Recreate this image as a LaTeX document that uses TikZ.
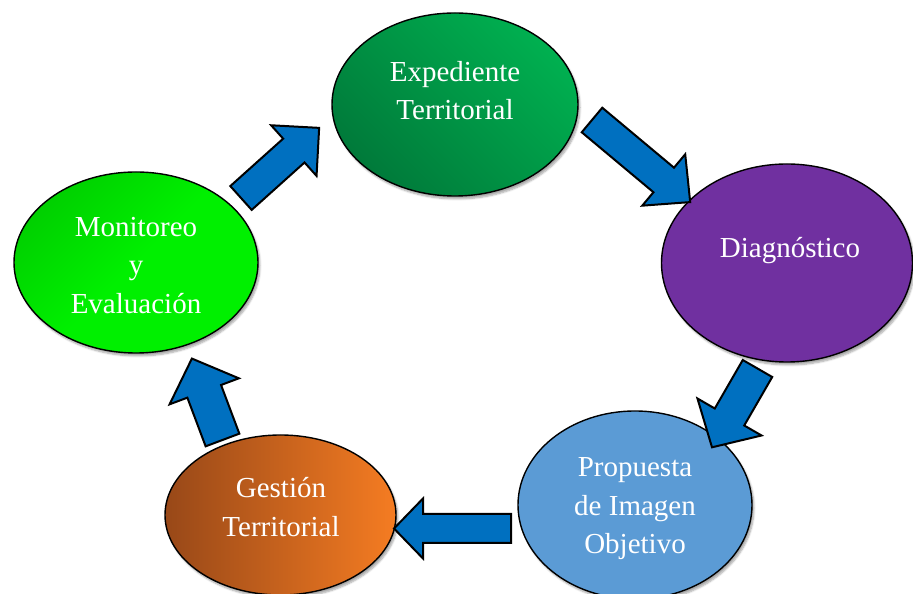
\documentclass[tikz,border=0pt]{standalone}
\usepackage{fontspec}
\setmainfont{Liberation Serif}
\usetikzlibrary{shadows.blur,shapes.geometric}
\definecolor{arrblue}{HTML}{0070C0}
\definecolor{expdark}{HTML}{007A3A}
\definecolor{explight}{HTML}{00B050}
\definecolor{diagpurple}{HTML}{7030A0}
\definecolor{mondark}{HTML}{00D000}
\definecolor{monlight}{HTML}{00F000}
\definecolor{gestdark}{HTML}{984818}
\definecolor{gestlight}{HTML}{F57C22}
\definecolor{propblue}{HTML}{5B9BD5}
\newcommand\blockarr[6]{%
  \draw[blockarrow, shift={(#1)}, rotate=#2]
    (0,-#4) -- ({#3-#6},-#4) -- ({#3-#6},-#5) -- (#3,0) -- ({#3-#6},#5) -- ({#3-#6},#4) -- (0,#4) -- cycle;}
\begin{document}
\begin{tikzpicture}[x=1pt,y=1pt,
  blockarrow/.style={fill=arrblue, draw=black, line width=2pt, line join=miter},
  bubble/.style={ellipse, draw=black, line width=1.4pt, inner sep=0pt, outer sep=0pt,
    blur shadow={shadow xshift=2pt, shadow yshift=-3pt, shadow blur steps=6, shadow opacity=35}},
  lbl/.style={text=white, align=center, font=\fontsize{29}{38.5}\selectfont, inner sep=0pt}]
\useasboundingbox (0,0) rectangle (913,594);
\begin{scope}
\clip (0,0) rectangle (913,594);
% ellipses
\node[bubble, left color=expdark, right color=explight, shading angle=135, minimum width=246, minimum height=183] (exp) at (455,489.5) {};
\node[bubble, fill=diagpurple, minimum width=251, minimum height=198] (diag) at (787,331) {};
\node[bubble, left color=mondark, right color=monlight, middle color=monlight, shading angle=45, minimum width=244, minimum height=181] (mon) at (136,331.5) {};
\node[bubble, left color=gestdark, right color=gestlight, minimum width=231, minimum height=160] (gest) at (280.5,79) {};
\node[bubble, fill=propblue, minimum width=234, minimum height=188] (prop) at (635,89) {};
% labels
\node[lbl] (expT) at (455,503.5) {Expediente\\Territorial};
\node[lbl] (diagT) at (790,343) {Diagnóstico};
\node[lbl] (monT) at (136,328.5) {Monitoreo\\y\\Evaluación};
\node[lbl] (gestT) at (281,87) {Gestión\\Territorial};
\node[lbl] (propT) at (635,85) {Propuesta\\de Imagen\\Objetivo};
% block arrows
\blockarr{241,396}{41.9}{105}{16}{34}{34}
\blockarr{592,474}{-39.9}{128}{16}{33.5}{34.5}
\blockarr{757.5,225.5}{-120}{91}{17}{37}{35}
\blockarr{511,65.5}{180}{117}{14.5}{30}{29}
\blockarr{222.5,154}{110.6}{87}{18}{37}{35}
\end{scope}
\end{tikzpicture}
\end{document}
